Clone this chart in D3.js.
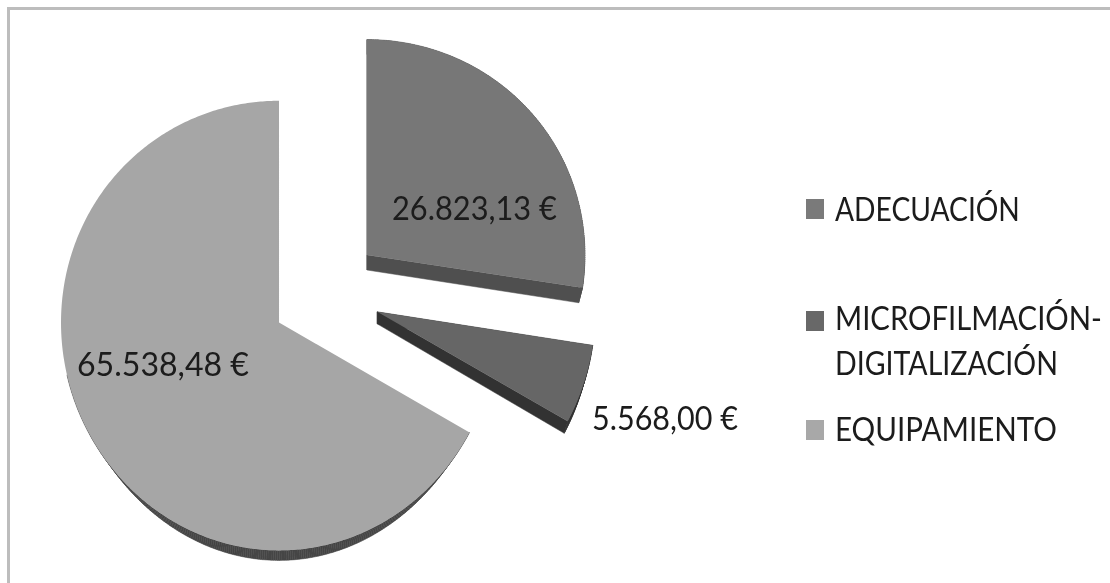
<!DOCTYPE html>
<html>
<head>
<meta charset="utf-8">
<script src="https://d3js.org/d3.v7.min.js"></script>
<style>
  html, body { margin: 0; padding: 0; background: #fff; }
  text { font-family: Lato, "Open Sans", sans-serif; fill: #1a1a1a; }
</style>
</head>
<body>
<svg id="chart" width="1110" height="583"></svg>
<script>
var categories = ["ADECUACIÓN", "MICROFILMACIÓN-DIGITALIZACIÓN", "EQUIPAMIENTO"];
var values = [26823.13, 5568.00, 65538.48];
var valueLabels = ["26.823,13 €", "5.568,00 €", "65.538,48 €"];
var legendLines = [["ADECUACIÓN"], ["MICROFILMACIÓN-", "DIGITALIZACIÓN"], ["EQUIPAMIENTO"]];
var topColors = ["#777777", "#666666", "#a6a6a6"];
var sideColors = ["#505050", "#333333", "#454545"];
var legendColors = ["#7a7a7a", "#686868", "#a8a8a8"];

var width = 1110, height = 583;

// pseudo 3d settings, fitted to the picture
var cx = 325.8, cy = 293, rx = 218, ry = 234;
var explode = 0.249, depthScale = 0.1, lowerShrink = 0.982;
var warpA = 222, warpB = 3;
var depths = [15, 12, 10];
var tapered = [false, false, true];

// text boxes: left x, baseline y, width
var labelBox = [[392, 220, 165], [592, 430, 146], [77, 376, 172]];
var legendX = 806, legendTextX = 835;
var legendBox = [[[221, 185]], [[330, 267], [375, 223]], [[441, 222]]];
var legendSwatchY = [199, 311, 420];

var svg = d3.select("#chart");

svg.append("defs").append("filter").attr("id", "soft")
  .append("feGaussianBlur").attr("stdDeviation", 0.55);

svg.append("rect")
  .attr("x", 8.5).attr("y", 8.5)
  .attr("width", width + 20).attr("height", height + 20)
  .attr("fill", "#fff")
  .attr("stroke", "#bdbdbd")
  .attr("stroke-width", 3);

var g = svg.append("g").attr("filter", "url(#soft)");

var pie = d3.pie().sort(null).value(function (d) { return d; });
var arcs = pie(values);

function warp(c) {
  return warpA * c + warpB * c * c;
}

function slicePoints(a, i, lower) {
  var mid = (a.startAngle + a.endAngle) / 2;
  var ox = explode * Math.sin(mid), oz = -explode * Math.cos(mid);
  var s = 1 + depthScale * oz;
  var apexX = cx + rx * ox, apexY = cy + ry * oz;
  var shrink = lower ? lowerShrink : 1;

  function point(t) {
    var c = -Math.cos(t);
    var h = lower ? depths[i] : 0;
    if (lower && tapered[i]) h = h * Math.pow(Math.max(c, 0), 2);
    return [apexX + rx * shrink * Math.sin(t), apexY + s * warp(c) + h];
  }

  var pts = [[apexX, apexY + (lower && !tapered[i] ? depths[i] : 0)]];
  d3.range(a.startAngle, a.endAngle, 0.01).concat([a.endAngle]).forEach(function (t) {
    pts.push(point(t));
  });
  return pts;
}

var line = d3.line();

// side walls first, then the top faces
arcs.forEach(function (a, i) {
  var topPts = slicePoints(a, i, false);
  var lowPts = slicePoints(a, i, true);
  var wall = g.append("g").attr("fill", sideColors[i]).attr("stroke", sideColors[i]).attr("stroke-width", 0.5);
  topPts.forEach(function (p, j) {
    var k = (j + 1) % topPts.length;
    // no wall where the taper has run out, it would only outline the top face
    if (lowPts[j][1] - p[1] < 0.5 || lowPts[k][1] - topPts[k][1] < 0.5) return;
    wall.append("path").attr("d", line([p, topPts[k], lowPts[k], lowPts[j]]) + "Z");
  });
});

arcs.forEach(function (a, i) {
  g.append("path")
    .attr("d", line(slicePoints(a, i, false)) + "Z")
    .attr("fill", topColors[i]);
});

// the text in the picture is tall and squeezed, so stretch it to its box
function addText(parent, txt, x, y, w) {
  var t = parent.append("text")
    .attr("font-size", 28)
    .text(txt);
  var natural = t.node().getComputedTextLength();
  t.attr("transform", "translate(" + x + "," + y + ") scale(" + (w / natural) + ",1.14)");
  return t;
}

valueLabels.forEach(function (d, i) {
  addText(g, d, labelBox[i][0], labelBox[i][1], labelBox[i][2]);
});

categories.forEach(function (d, i) {
  var el = g.append("g").attr("class", "legend");
  el.append("rect")
    .attr("x", legendX)
    .attr("y", legendSwatchY[i])
    .attr("width", 18).attr("height", 20)
    .attr("fill", legendColors[i]);
  legendLines[i].forEach(function (txt, j) {
    addText(el, txt, legendTextX, legendBox[i][j][0], legendBox[i][j][1]);
  });
});
</script>
</body>
</html>
